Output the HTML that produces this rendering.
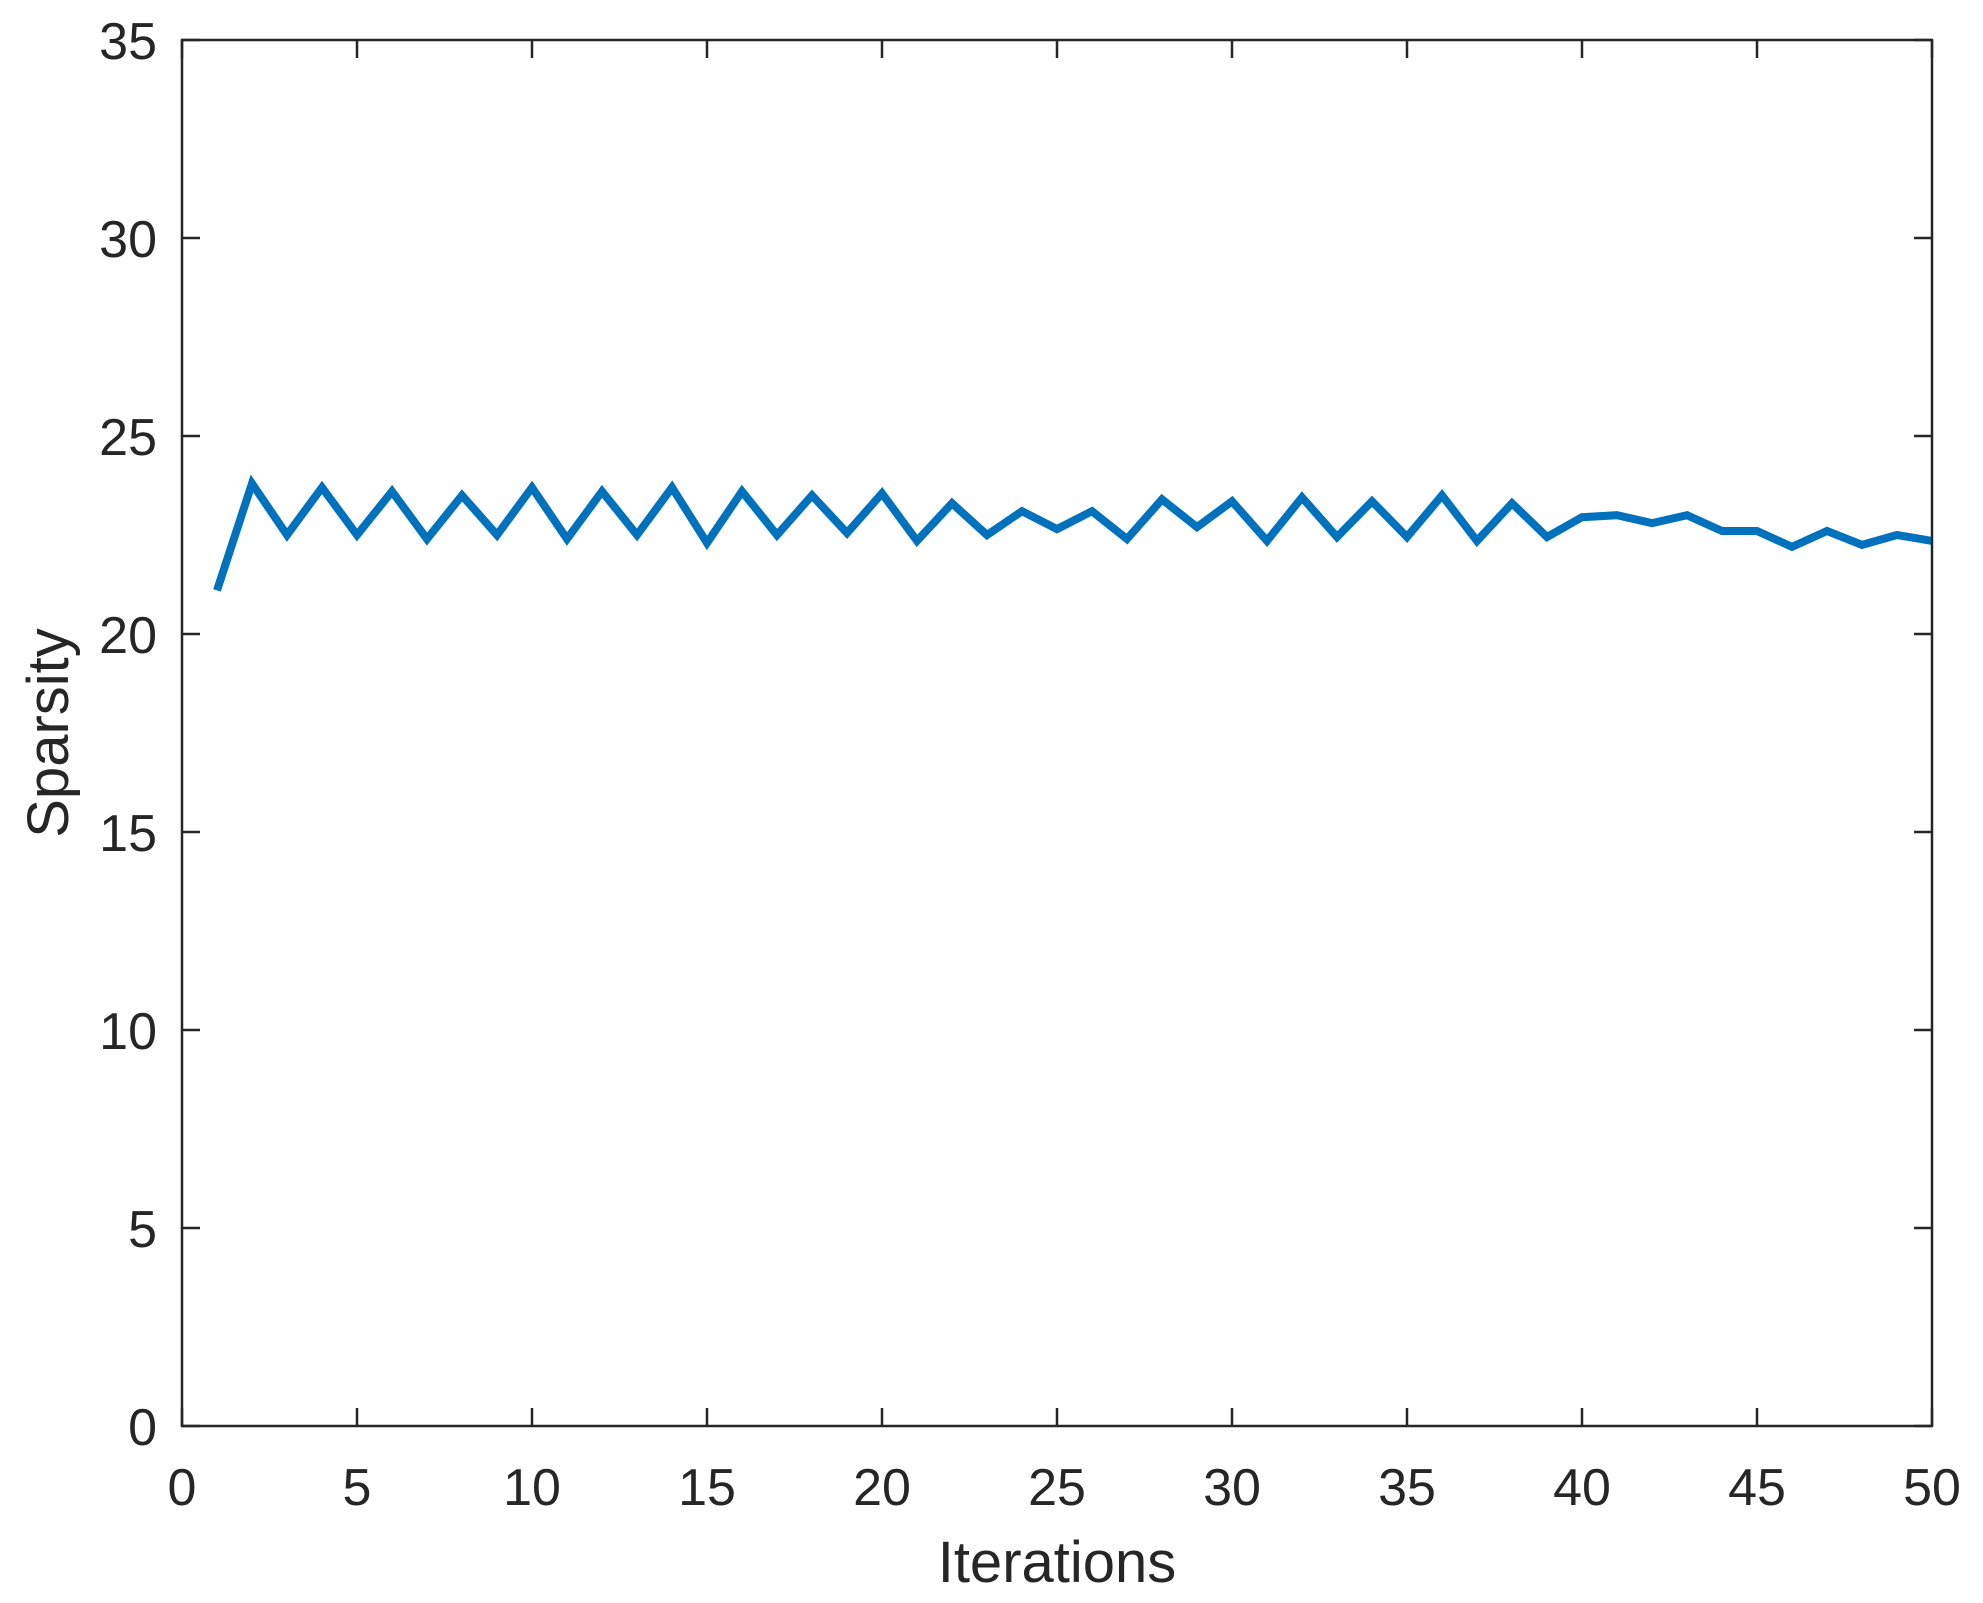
<!DOCTYPE html>
<html><head><meta charset="utf-8"><style>
html,body{margin:0;padding:0;background:#fff;}
svg{display:block;font-family:"Liberation Sans",Arial,sans-serif;}
</style></head><body>
<svg id="chart" width="1983" height="1603" viewBox="0 0 1983 1603" xmlns="http://www.w3.org/2000/svg">
<rect width="1983" height="1603" fill="#fff"/>
<g id="ticks"></g>
<path id="series" fill="none" stroke="#0072BD" stroke-width="8" stroke-linejoin="miter" stroke-miterlimit="10"/>
<rect x="182" y="40" width="1750" height="1386" fill="none" stroke="#262626" stroke-width="2.5"/>
<text x="1057" y="1582" font-size="58" text-anchor="middle" fill="#262626">Iterations</text>
<text transform="translate(68,733) rotate(-90)" font-size="58" text-anchor="middle" fill="#262626">Sparsity</text>
</svg>
<script>
const iterations = [1,2,3,4,5,6,7,8,9,10,11,12,13,14,15,16,17,18,19,20,21,22,23,24,25,26,27,28,29,30,31,32,33,34,35,36,37,38,39,40,41,42,43,44,45,46,47,48,49,50];
const sparsity = [21.1,23.8,22.5,23.7,22.5,23.6,22.4,23.5,22.5,23.7,22.4,23.6,22.5,23.7,22.3,23.6,22.5,23.5,22.55,23.55,22.35,23.3,22.5,23.1,22.65,23.1,22.4,23.4,22.7,23.35,22.35,23.45,22.45,23.35,22.45,23.5,22.35,23.3,22.45,22.95,23.0,22.8,23.0,22.6,22.6,22.2,22.6,22.25,22.5,22.35];
const xTicks = [0,5,10,15,20,25,30,35,40,45,50];
const yTicks = [0,5,10,15,20,25,30,35];
const L=182,R=1932,T=40,B=1426,xMin=0,xMax=50,yMin=0,yMax=35;
const xs=v=>L+(v-xMin)/(xMax-xMin)*(R-L);
const ys=v=>B-(v-yMin)/(yMax-yMin)*(B-T);
const NS='http://www.w3.org/2000/svg';
const g=document.getElementById('ticks');
function mk(tag,attrs){const e=document.createElementNS(NS,tag);for(const k in attrs)e.setAttribute(k,attrs[k]);return e;}
xTicks.forEach(t=>{
  const x=xs(t);
  const l1=mk('line',{x1:x,x2:x,y1:B,y2:B-18,stroke:'#262626','stroke-width':2.5});
  
  
  g.appendChild(l1);
  const l2=mk('line',{x1:x,x2:x,y1:T,y2:T+18,stroke:'#262626','stroke-width':2.5});
  
  
  g.appendChild(l2);
  const tx=mk('text',{x:x,y:1505,'font-size':52,'text-anchor':'middle',fill:'#262626'});
  tx.textContent=t;
  
  
  g.appendChild(tx);
});
yTicks.forEach(t=>{
  const y=ys(t);
  const l1=mk('line',{x1:L,x2:L+18,y1:y,y2:y,stroke:'#262626','stroke-width':2.5});
  
  
  g.appendChild(l1);
  const l2=mk('line',{x1:R,x2:R-18,y1:y,y2:y,stroke:'#262626','stroke-width':2.5});
  
  
  g.appendChild(l2);
  const tx=mk('text',{x:157,y:y+19,'font-size':52,'text-anchor':'end',fill:'#262626'});
  tx.textContent=t;
  
  
  g.appendChild(tx);
});
document.getElementById('series').setAttribute('d',iterations.map((it,i)=>(i?'L':'M')+xs(it).toFixed(1)+','+ys(sparsity[i]).toFixed(1)).join(' '));
</script>
</body></html>
